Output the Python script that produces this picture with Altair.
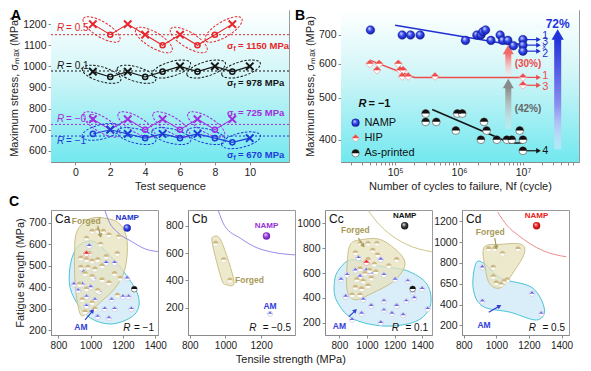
import math
import altair as alt
import pandas as pd

# ---------------- layout ----------------
WA, WB, H1 = 238, 238, 152
WC, H2 = 107, 125

# ---------------- Panel A data ----------------
A_names = ["0.5", "0.1", "-0.5", "-1"]
A_colors = ["#e8262a", "#151515", "#a12ee0", "#1f3bd8"]

a05_seq = [1, 2, 3, 4, 5, 6, 7, 8, 9]
a05_val = [1200, 1150, 1200, 1150, 1100, 1150, 1100, 1150, 1200]
a05_mk = ["x", "o", "x", "x", "o", "x", "o", "o", "x"]
a05_pairs = [(1, 2), (4, 5), (6, 7), (8, 9)]

a01_seq = [1, 2, 3, 4, 5, 6, 7, 8, 9, 10]
a01_val = [975, 950, 975, 950, 975, 1000, 975, 1000, 975, 1000]
a01_mk = ["x", "o", "x", "o", "o", "x", "o", "x", "o", "x"]
a01_pairs = [(1, 2), (3, 4), (5, 6), (7, 8), (9, 10)]

am05_seq = [1, 2, 3, 4, 5, 6, 7, 8, 9]
am05_val = [750, 700, 750, 700, 750, 700, 750, 700, 750]
am05_mk = ["x", "x", "x", "o", "x", "o", "x", "o", "x"]
am05_pairs = [(1, 2), (3, 4), (5, 6), (7, 8)]

am1_seq = [1, 2, 3, 4, 5, 6, 7, 8, 9, 10]
am1_val = [680, 700, 680, 660, 680, 660, 680, 660, 640, 660]
am1_mk = ["o", "x", "x", "o", "x", "o", "x", "o", "o", "x"]
am1_pairs = [(1, 2), (3, 4), (5, 6), (7, 8), (9, 10)]

A_sigma = [1150, 978, 725, 670]
A_sigma_txt = ["= 1150 MPa", "= 978 MPa", "= 725 MPa", "= 670 MPa"]
A_sigma_y = [1096, 921, 778, 578]
A_sigma_x = [8.7, 8.7, 8.7, 8.7]
A_R_txt = ["= 0.5", "= 0.1", "= −0.5", "= −1"]
A_R_y = [1180, 1002, 750, 646]
A_R_x = [-1.05, -1.05, -1.05, -1.05]

# ---------------- Panel B data ----------------
B_namp_N = [4.1e4, 1.29e5, 1.74e5, 2.46e5, 1.26e6, 1.9e6, 2.2e6, 2.35e6, 2.6e6, 3.16e6,
            4.4e6, 4.8e6, 5.8e6, 7.1e6, 1e7, 1e7, 1e7]
B_namp_S = [719, 700, 700, 700, 680, 700, 700, 712, 719, 680, 700, 680, 680, 661, 683, 663, 642]
B_hip_N = [4.0e4, 5.2e4, 5.6e4, 1.12e5, 1.19e5, 1.33e5, 1.29e5, 1.6e5, 4.2e5, 1e7, 1e7]
B_hip_S = [600, 580, 600, 600, 580, 580, 561, 561, 561, 558, 535]
B_asp_N = [3.0e5, 3.0e5, 4.4e5, 8.9e5, 9.4e5, 1.12e6, 2.2e6, 2.46e6, 2.7e6, 3.9e6, 5.6e6,
           6.7e6, 8.9e6, 1e7, 1e7]
B_asp_S = [460, 440, 440, 420, 460, 460, 400, 440, 420, 400, 400, 400, 420, 400, 377]

B_series = ["NAMP", "HIP", "As-printed"]
B_colors = ["#1f2fd0", "#ee4b4b", "#151515"]
B_fit_namp_N = [1e5, 5.6e6, 1e7]
B_fit_namp_S = [737, 667, 667]
B_fit_hip_N = [4e4, 2e5, 1e7]
B_fit_hip_S = [612, 558, 558]
B_fit_asp_N = [3.8e5, 6.3e6, 1e7]
B_fit_asp_S = [470, 393, 393]

B_run_series = ["NAMP", "NAMP", "NAMP", "HIP", "HIP", "As-printed"]
B_run_S = [683, 663, 642, 558, 535, 377]
B_run_from = 1e7
B_run_to = 1.75e7
B_lab_series = ["NAMP", "NAMP", "NAMP", "NAMP", "HIP", "HIP", "As-printed"]
B_lab_txt = ["1", "3", "x", "2", "1", "3", "4"]
B_lab_S = [696, 673, 655, 634, 562, 531, 377]
B_lab_size = [10.5, 10.5, 8, 10.5, 11, 11, 11]
B_lab_N = 2.0e7

B_big_N = [5.9e6, 5.9e6, 3.5e7]
B_big_lo = [563, 424, 380]
B_big_hi = [632, 528, 685]
B_big_head = [648, 540, 702]

B_leg_txt = ["NAMP", "HIP", "As-printed"]
B_leg_S = [438, 403, 372]
B_leg_sym_N = 2.4e4
B_leg_txt_N = 3.3e4
B_Rlab = (2.66e4, 484)
B_pct_txt = ["(30%)", "(42%)", "72%"]
B_pct_N = [1.2e7, 1.2e7, 3.5e7]
B_pct_S = [600, 472, 742]

# ---------------- Panel C data ----------------
Ca_forged_x = [1009, 1043, 1078, 1113, 1174, 974, 1061, 991, 939, 974, 1009, 1043, 1096, 1165, 939, 983,
               1026, 1070, 965, 1009, 1070, 1148, 1183, 930, 974, 1043, 1165, 948, 1009, 965, 1026, 1113]
Ca_forged_y = [660, 664, 660, 643, 635, 628, 600, 556, 535, 528, 521, 528, 542, 556, 492, 492,
               484, 499, 463, 449, 434, 463, 441, 413, 391, 384, 362, 341, 327, 284, 298, 420]
Ca_am_x = [991, 957, 1017, 1096, 1148, 1226, 896, 948, 922, 974, 1026, 1052, 1130, 1200, 1235, 1252,
           1148, 1087, 1043, 1113, 974, 1000]
Ca_am_y = [592, 470, 441, 513, 513, 441, 413, 413, 384, 355, 341, 377, 341, 355, 355, 298,
           298, 298, 262, 255, 312, 400]
Ca_fo_x = [915, 990, 1090, 1180, 1226, 1212, 1150, 1060, 980, 935, 905, 900]
Ca_fo_y = [660, 718, 722, 695, 614, 484, 395, 330, 280, 275, 400, 560]
Ca_ao_x = [922, 1009, 1096, 1217, 1296, 1275, 1148, 1026, 939, 872, 876]
Ca_ao_y = [590, 615, 566, 460, 355, 275, 230, 245, 300, 398, 513]
Ca_cv_x = [1087, 1113, 1165, 1252, 1339, 1420]
Ca_cv_y = [760, 707, 657, 614, 578, 566]

Cb_forged_x = [945, 990, 1025]
Cb_forged_y = [670, 550, 400]
Cb_am_x = [1250]
Cb_am_y = [155]
Cb_fo_x = [933, 977, 1048, 1003, 977, 927]
Cb_fo_y = [720, 686, 392, 369, 414, 664]
Cb_cv_x = [959, 995, 1083, 1172, 1260, 1400]
Cb_cv_y = [914, 800, 709, 641, 607, 586]

Cc_forged_x = [950, 1008, 1072, 916, 1042, 1077, 1008, 1054, 950, 985, 1019, 1065, 927, 973, 1031, 916,
               961, 1008, 892, 950, 1215, 1158]
Cc_forged_y = [837, 837, 837, 762, 782, 744, 707, 670, 633, 596, 621, 608, 547, 534, 559, 484,
               473, 497, 423, 423, 707, 658]
Cc_am_x = [812, 857, 916, 950, 996, 1031, 939, 1100, 1123, 1204, 1296, 1331, 1343, 1285, 1400, 1440,
           846, 973, 1031, 1123, 1215, 961, 1123, 1262, 892, 1100, 1181]
Cc_am_y = [547, 584, 621, 571, 621, 596, 720, 707, 584, 547, 534, 447, 398, 373, 473, 311,
           410, 386, 336, 373, 336, 274, 299, 262, 224, 200, 274]
Cc_fo_x = [881, 961, 1100, 1238, 1273, 1193, 1031, 916, 857, 857]
Cc_fo_y = [831, 868, 868, 757, 658, 534, 435, 386, 460, 683]
Cc_ao_x = [800, 892, 1077, 1285, 1435, 1458, 1354, 1123, 892, 777, 765]
Cc_ao_y = [633, 707, 658, 621, 510, 336, 212, 175, 237, 386, 534]
Cc_cv_x = [1008, 1077, 1146, 1285, 1470]
Cc_cv_y = [1104, 1004, 930, 831, 770]

Cd_forged_x = [953, 990, 1038, 1133, 981, 981, 1000, 1029, 1048, 1067]
Cd_forged_y = [933, 933, 889, 933, 756, 667, 607, 593, 622, 637]
Cd_am_x = [914, 914, 1219, 1276]
Cd_am_y = [756, 430, 504, 311]
Cd_fo_x = [924, 1029, 1152, 1171, 1105, 1029, 962, 933]
Cd_fo_y = [948, 978, 978, 889, 711, 563, 593, 740]
Cd_ao_x = [876, 933, 1029, 1219, 1295, 1247, 1086, 914, 857]
Cd_ao_y = [800, 785, 652, 563, 356, 252, 326, 385, 563]
Cd_cv_x = [1008, 1067, 1134, 1286, 1430]
Cd_cv_y = [1287, 1156, 1065, 917, 858]

# ---------------- styles ----------------
ELLIPSE = ("M-1,0 C-1,-0.199 -0.552,-0.36 0,-0.36 C0.552,-0.36 1,-0.199 1,0 "
           "C1,0.199 0.552,0.36 0,0.36 C-0.552,0.36 -1,0.199 -1,0 Z")
XPATH = "M-1,-1 L1,1 M-1,1 L1,-1"
TOP_HALF = "M-1,0 C-1,-0.55 -0.55,-1 0,-1 C0.55,-1 1,-0.55 1,0 Z"
TOP_TRI = "M-1,0 L0,-1 L1,0 Z"
TOP_DOME = "M-1,0 Q-0.45,-0.35 0,-1 Q0.45,-0.35 1,0 Z"


def lgrad(stops):
    return alt.LinearGradient(gradient="linear",
                              stops=[alt.GradientStop(offset=o, color=c) for o, c in stops],
                              x1=0, x2=0, y1=0, y2=1)


def sphere(light, mid, dark):
    return alt.RadialGradient(gradient="radial",
                              stops=[alt.GradientStop(offset=0, color=light),
                                     alt.GradientStop(offset=0.45, color=mid),
                                     alt.GradientStop(offset=1, color=dark)],
                              x1=0.35, y1=0.3, r1=0, x2=0.5, y2=0.5, r2=0.6)


BG = lgrad([(0, "#ffffff"), (0.4, "#d4f6f8"), (1, "#72e8ef")])
one = pd.DataFrame({"k": [0]})

# ================= Panel A =================
sA_x = alt.Scale(domain=[-1.4, 12.25], nice=False, zero=False)
sA_y = alt.Scale(domain=[547, 1267], nice=False, zero=False)
axA_x = alt.Axis(values=[0, 2, 4, 6, 8, 10], labelFlush=False, title="Test sequence")
axA_y = alt.Axis(values=[600, 700, 800, 900, 1000, 1100, 1200], format="d", title="Maximum stress, σₘₐₓ (MPa)")


def XA():
    return alt.X("x:Q", scale=sA_x, axis=axA_x)


def YA():
    return alt.Y("y:Q", scale=sA_y, axis=axA_y)


colA = alt.Color("series:N", scale=alt.Scale(domain=A_names, range=A_colors), legend=None)
pxx = WA / (12.25 + 1.4)
pxy = H1 / (1267 - 547)
rows, ell = [], []
for nm, seq, val, mk, pairs in [("0.5", a05_seq, a05_val, a05_mk, a05_pairs),
                                ("0.1", a01_seq, a01_val, a01_mk, a01_pairs),
                                ("-0.5", am05_seq, am05_val, am05_mk, am05_pairs),
                                ("-1", am1_seq, am1_val, am1_mk, am1_pairs)]:
    for s, v, m in zip(seq, val, mk):
        rows.append({"series": nm, "x": s, "y": v, "m": m})
    for a, b in pairs:
        va, vb = val[seq.index(a)], val[seq.index(b)]
        dx, dy = (b - a) * pxx, (va - vb) * pxy
        ell.append({"series": nm, "x": (a + b) / 2, "y": (va + vb) / 2,
                    "ang": math.degrees(math.atan2(dy, dx)) % 360,
                    "sz": (math.hypot(dx, dy) + 22) ** 2})
dfA = pd.DataFrame(rows)
dfE = pd.DataFrame(ell)
dfRef = pd.DataFrame({"series": A_names, "y": A_sigma})
dfSig = pd.DataFrame({"series": A_names, "x": A_sigma_x, "y": A_sigma_y, "t": A_sigma_txt})
dfR = pd.DataFrame({"series": A_names, "x": A_R_x, "y": A_R_y, "t": A_R_txt})

a_layers = [
    alt.Chart(one).mark_rect(fill=BG).encode(x=alt.value(0), x2=alt.value(WA), y=alt.value(0), y2=alt.value(H1)),
    alt.Chart(dfRef).mark_rule(strokeDash=[2, 2], strokeWidth=1).encode(y=YA(), color=colA),
    alt.Chart(dfA).mark_line(strokeWidth=1.1).encode(x=XA(), y=YA(), color=colA),
    alt.Chart(dfE).mark_point(shape=ELLIPSE, filled=False, strokeDash=[2.5, 1.5], strokeWidth=1, opacity=1)
    .encode(x=XA(), y=YA(), color=colA, angle=alt.Angle("ang:Q", scale=None), size=alt.Size("sz:Q", scale=None)),
    alt.Chart(dfA).transform_filter("datum.m == 'x'")
    .mark_point(shape=XPATH, filled=False, strokeWidth=2, size=55, opacity=1)
    .encode(x=XA(), y=YA(), color=colA),
    alt.Chart(dfA).transform_filter("datum.m == 'o'")
    .mark_point(shape="circle", filled=False, strokeWidth=1.5, size=26, opacity=1)
    .encode(x=XA(), y=YA(), color=colA),
    alt.Chart(dfR).mark_text(text="R", align="left", baseline="middle", fontSize=10, fontStyle="italic")
    .encode(x=XA(), y=YA(), color=colA),
    alt.Chart(dfR).mark_text(align="left", baseline="middle", fontSize=10, dx=9)
    .encode(x=XA(), y=YA(), color=colA, text="t:N"),
    alt.Chart(dfSig).mark_text(text="σ", align="left", baseline="middle", fontSize=9.5, fontWeight="bold")
    .encode(x=XA(), y=YA(), color=colA),
    alt.Chart(dfSig).mark_text(text="f", align="left", baseline="middle", fontSize=6.5, fontWeight="bold", dx=6.5, dy=3)
    .encode(x=XA(), y=YA(), color=colA),
    alt.Chart(dfSig).mark_text(align="left", baseline="middle", fontSize=9.5, fontWeight="bold", dx=11)
    .encode(x=XA(), y=YA(), color=colA, text="t:N"),
    alt.Chart(one).mark_text(text="A", align="left", baseline="top", fontSize=14, fontWeight="bold")
    .encode(x=alt.value(-40), y=alt.value(-1)),
]
panelA = alt.layer(*a_layers).properties(width=WA, height=H1)

# ================= Panel B =================
sB_x = alt.Scale(type="log", domain=[1.7e4, 6.3e7], nice=False)
sB_y = alt.Scale(type="log", domain=[355, 800], nice=False)
B_ticks = [m * 10 ** e for e in range(4, 8) for m in range(1, 10) if 1.7e4 <= m * 10 ** e <= 6.3e7]
axB_x = alt.Axis(values=B_ticks, labelOverlap=False, labelFlush=False,
                 labelExpr="datum.value == 100000 ? '10⁵' : datum.value == 1000000 ? '10⁶' : datum.value == 10000000 ? '10⁷' : ''",
                 title="Number of cycles to failure, Nf (cycle)")
axB_y = alt.Axis(values=[400, 500, 600, 700], format="d", title="Maximum stress, σₘₐₓ (MPa)")


def XB(f="x"):
    return alt.X(f + ":Q", scale=sB_x, axis=axB_x)


def YB(f="y"):
    return alt.Y(f + ":Q", scale=sB_y, axis=axB_y)


colB = alt.Color("series:N", scale=alt.Scale(domain=B_series, range=B_colors), legend=None)

fit_rows = []
for nm, ns, ss in [("NAMP", B_fit_namp_N, B_fit_namp_S), ("HIP", B_fit_hip_N, B_fit_hip_S),
                   ("As-printed", B_fit_asp_N, B_fit_asp_S)]:
    for i, (n, s) in enumerate(zip(ns, ss)):
        fit_rows.append({"series": nm, "x": n, "y": s, "i": i})
dfFit = pd.DataFrame(fit_rows)
dfRun = pd.DataFrame({"series": B_run_series, "x": [B_run_from] * len(B_run_S),
                      "x2": [B_run_to] * len(B_run_S), "y": B_run_S})
dfRunLab = pd.DataFrame({"series": B_lab_series, "x": [B_lab_N] * len(B_lab_S), "y": B_lab_S,
                         "t": B_lab_txt, "fs": B_lab_size})
dfNamp = pd.DataFrame({"x": B_namp_N, "y": B_namp_S})
dfHip = pd.DataFrame({"x": B_hip_N, "y": B_hip_S})
dfAsp = pd.DataFrame({"x": B_asp_N, "y": B_asp_S})
dfLegSym = pd.DataFrame({"x": [B_leg_sym_N] * 3, "y": B_leg_S, "t": B_leg_txt})
dfLegTxt = pd.DataFrame({"x": [B_leg_txt_N] * 3, "y": B_leg_S, "t": B_leg_txt})
dfRl = pd.DataFrame({"x": [B_Rlab[0]], "y": [B_Rlab[1]]})

NAMP_BLUE = sphere("#e8ecff", "#3346ee", "#0a148a")


def halfsym(df, X, Y, top_shape, top_color, base_shape="circle", size=70, stroke="#8a8a8a", sw=0.6):
    base = alt.Chart(df).mark_point(shape=base_shape, filled=True, fill="white", stroke=stroke,
                                    strokeWidth=sw, size=size, opacity=1).encode(x=X, y=Y)
    top = alt.Chart(df).mark_point(shape=top_shape, filled=True, fill=top_color, strokeWidth=0,
                                   size=size, opacity=1).encode(x=X, y=Y)
    return [base, top]


big_specs = [
    ([(0, "#f36a6a"), (1, "rgba(255,230,230,0.35)")], "#f36a6a", 120),
    ([(0, "#8a8a8a"), (1, "rgba(235,235,235,0.35)")], "#8a8a8a", 120),
    ([(0, "#2233dd"), (0.6, "#8b8ff0"), (1, "rgba(240,235,255,0.4)")], "#2233dd", 150),
]
big_layers = []
for i, (stops, hc, hs) in enumerate(big_specs):
    dfb = pd.DataFrame({"x": [B_big_N[i]], "y": [B_big_lo[i]], "y2": [B_big_hi[i]]})
    dfh = pd.DataFrame({"x": [B_big_N[i]], "y": [B_big_head[i]]})
    big_layers.append(alt.Chart(dfb).mark_bar(fill=lgrad(stops), size=6 if i < 2 else 7)
                      .encode(x=XB(), y=YB(), y2="y2:Q"))
    big_layers.append(alt.Chart(dfh).mark_point(shape="triangle-up", filled=True, fill=hc, strokeWidth=0,
                                                size=hs, opacity=1).encode(x=XB(), y=YB()))

dfPct = pd.DataFrame({"x": B_pct_N, "y": B_pct_S, "t": B_pct_txt})
b_layers = [
    alt.Chart(one).mark_rect(fill=BG).encode(x=alt.value(0), x2=alt.value(WB), y=alt.value(0), y2=alt.value(H1)),
    alt.Chart(dfFit).mark_line(strokeWidth=1.5).encode(x=XB(), y=YB(), color=colB, order="i:Q"),
    alt.Chart(dfRun).mark_rule(strokeWidth=1.2).encode(x=XB(), x2="x2:Q", y=YB(), color=colB),
    alt.Chart(dfRun).mark_point(shape="triangle-right", filled=True, size=28, opacity=1)
    .encode(x=XB("x2"), y=YB(), color=colB),
] + big_layers
b_layers += halfsym(dfAsp, XB(), YB(), TOP_HALF, "#111111", stroke="#444", size=62)
b_layers += halfsym(dfHip, XB(), YB(), TOP_TRI, "#ee4b4b", base_shape="diamond", stroke="#e88", size=62)
b_layers += [
    alt.Chart(dfNamp).mark_point(shape="circle", filled=True, fill=NAMP_BLUE, stroke="#0a148a",
                                 strokeWidth=0.4, size=75, opacity=1).encode(x=XB(), y=YB()),
    alt.Chart(dfRunLab).mark_text(align="left", baseline="middle")
    .encode(x=XB(), y=YB(), color=colB, text="t:N", size=alt.Size("fs:Q", scale=None)),
]
b_layers += [
    alt.Chart(dfLegSym.iloc[[0]]).mark_point(shape="circle", filled=True, fill=NAMP_BLUE, stroke="#0a148a",
                                              strokeWidth=0.4, size=60, opacity=1).encode(x=XB(), y=YB()),
]
b_layers += halfsym(dfLegSym.iloc[[1]], XB(), YB(), TOP_TRI, "#ee4b4b", base_shape="diamond", stroke="#e88", size=55)
b_layers += halfsym(dfLegSym.iloc[[2]], XB(), YB(), TOP_HALF, "#111111", stroke="#444", size=55)
b_layers += [
    alt.Chart(dfLegTxt).mark_text(align="left", baseline="middle", fontSize=11, color="#111")
    .encode(x=XB(), y=YB(), text="t:N"),
    alt.Chart(dfRl).mark_text(text="R", align="left", baseline="middle", fontSize=11, fontWeight="bold",
                              fontStyle="italic", color="#111").encode(x=XB(), y=YB()),
    alt.Chart(dfRl).mark_text(text="= −1", align="left", baseline="middle", fontSize=11, fontWeight="bold",
                              dx=10, color="#111").encode(x=XB(), y=YB()),
    alt.Chart(dfPct.iloc[[0]]).mark_text(align="center", baseline="middle", fontSize=10, fontWeight="bold",
                                         color="#ee4b4b").encode(x=XB(), y=YB(), text="t:N"),
    alt.Chart(dfPct.iloc[[1]]).mark_text(align="center", baseline="middle", fontSize=10, fontWeight="bold",
                                         color="#666666").encode(x=XB(), y=YB(), text="t:N"),
    alt.Chart(dfPct.iloc[[2]]).mark_text(align="center", baseline="middle", fontSize=12, fontWeight="bold",
                                         color="#2233dd").encode(x=XB(), y=YB(), text="t:N"),
    alt.Chart(one).mark_text(text="B", align="left", baseline="top", fontSize=14, fontWeight="bold")
    .encode(x=alt.value(-46), y=alt.value(-1)),
]
panelB = alt.layer(*b_layers).properties(width=WB, height=H1)

# ================= Panel C =================
FORGED_TXT = "#a89a58"
AM_TXT = "#3340d8"


def c_panel(letter, xdom, ydom, yticks, ytitle, forged, am, fo, ao, curve, curve_color, namp, namp_fill,
            namp_col, hip, asp, forged_lab, am_lab, forged_arr, am_arr, r_txt, ylexpr=None, big_letter=False):
    sx = alt.Scale(domain=xdom, nice=False, zero=False)
    sy = alt.Scale(domain=ydom, nice=False, zero=False)
    axx = alt.Axis(values=[800, 1000, 1200, 1400], format="d", title=None, labelFlush=False,
                   labelOverlap=False, labelFontSize=10)
    ykw = dict(values=yticks, title=ytitle, format="d")
    if ylexpr:
        ykw["labelExpr"] = ylexpr
    axy = alt.Axis(**ykw)

    def X(f="x"):
        return alt.X(f + ":Q", scale=sx, axis=axx)

    def Y(f="y"):
        return alt.Y(f + ":Q", scale=sy, axis=axy)

    def D(xs, ys):
        return pd.DataFrame({"x": list(xs), "y": list(ys), "i": list(range(len(xs)))})

    L = []
    if ao:
        L.append(alt.Chart(D(*ao)).mark_line(interpolate="cardinal-closed", fill="#d6ecf8", fillOpacity=0.9,
                                              stroke="#48c4d4", strokeWidth=1)
                 .encode(x=X(), y=Y(), order="i:Q"))
    if fo:
        L.append(alt.Chart(D(*fo)).mark_line(interpolate="cardinal-closed", fill="#e6e2bc", fillOpacity=0.75,
                                              stroke="#cbc088", strokeWidth=1)
                 .encode(x=X(), y=Y(), order="i:Q"))
    L.append(alt.Chart(D(*curve)).mark_line(interpolate="monotone", clip=True, strokeWidth=0.9, color=curve_color)
             .encode(x=X(), y=Y(), order="i:Q"))
    L += halfsym(D(*am), X(), Y(), TOP_DOME, "#6a6ae6", stroke="#b8b8d8", size=28, sw=0.5)
    L += halfsym(D(*forged), X(), Y(), TOP_HALF, "#cdb882", stroke="#d8d0b0", size=28, sw=0.5)
    if hip:
        L += halfsym(D([hip[0]], [hip[1]]), X(), Y(), TOP_TRI, "#e82b2b", stroke="#e88", size=34)
    if asp:
        L += halfsym(D([asp[0]], [asp[1]]), X(), Y(), TOP_HALF, "#111111", stroke="#444", size=34)
    dn = D([namp[0]], [namp[1]])
    L.append(alt.Chart(dn).mark_point(shape="circle", filled=True, fill=namp_fill, strokeWidth=0,
                                      size=55, opacity=1).encode(x=X(), y=Y()))
    L.append(alt.Chart(dn).mark_text(text="NAMP", fontSize=8, fontWeight="bold", color=namp_col, dy=-10)
             .encode(x=X(), y=Y()))
    L.append(alt.Chart(D([forged_lab[0]], [forged_lab[1]])).mark_text(text="Forged", fontSize=8.5, fontWeight="bold",
                                                                      color=FORGED_TXT).encode(x=X(), y=Y()))
    L.append(alt.Chart(D([am_lab[0]], [am_lab[1]])).mark_text(text="AM", fontSize=8.5, fontWeight="bold",
                                                              color=AM_TXT).encode(x=X(), y=Y()))
    for arr, col in [(forged_arr, "#a89a58"), (am_arr, "#3340d8")]:
        if not arr:
            continue
        x1, y1, x2, y2 = arr
        dxp = (x2 - x1) * WC / (xdom[1] - xdom[0])
        dyp = (y2 - y1) * H2 / (ydom[1] - ydom[0])
        ang = math.degrees(math.atan2(dxp, dyp)) % 360
        da = pd.DataFrame({"x": [x1], "y": [y1], "x2": [x2], "y2": [y2], "ang": [ang]})
        L.append(alt.Chart(da).mark_rule(strokeWidth=1.2, color=col).encode(x=X(), y=Y(), x2="x2:Q", y2="y2:Q"))
        L.append(alt.Chart(da).mark_point(shape="triangle-up", filled=True, fill=col, strokeWidth=0, size=24,
                                          opacity=1).encode(x=X("x2"), y=Y("y2"),
                                                            angle=alt.Angle("ang:Q", scale=None)))
    L.append(alt.Chart(one).mark_text(text=letter, align="left", baseline="top", fontSize=12, color="#111")
             .encode(x=alt.value(4), y=alt.value(4)))
    rw = 5.4 * len(r_txt)
    L.append(alt.Chart(one).mark_text(text=r_txt, align="right", baseline="alphabetic", fontSize=10, color="#111")
             .encode(x=alt.value(WC - 4), y=alt.value(H2 - 4)))
    L.append(alt.Chart(one).mark_text(text="R", align="right", baseline="alphabetic", fontSize=10,
                                      fontStyle="italic", color="#111")
             .encode(x=alt.value(WC - 6 - rw), y=alt.value(H2 - 4)))
    if big_letter:
        L.append(alt.Chart(one).mark_text(text="C", align="left", baseline="top", fontSize=14, fontWeight="bold")
                 .encode(x=alt.value(-42), y=alt.value(-15)))
    return alt.layer(*L).properties(width=WC, height=H2)


Ca = c_panel("Ca", [754, 1417], [177, 760], [200, 300, 400, 500, 600, 700], "Fatigue srength (MPa)",
             (Ca_forged_x, Ca_forged_y), (Ca_am_x, Ca_am_y), (Ca_fo_x, Ca_fo_y), (Ca_ao_x, Ca_ao_y),
             (Ca_cv_x, Ca_cv_y), "#8a7ee6", (1226, 676), sphere("#e8ecff", "#3346ee", "#0a148a"), "#2233cc",
             (974, 556), (1270, 391), (972, 711), (939, 215), (1043, 686, 1061, 640), (965, 247, 1012, 290),
             "= −1", big_letter=True)
Cb = c_panel("Cb", [790, 1390], [0, 915], [200, 400, 600, 800], None,
             (Cb_forged_x, Cb_forged_y), (Cb_am_x, Cb_am_y), (Cb_fo_x, Cb_fo_y), None,
             (Cb_cv_x, Cb_cv_y), "#8a7ee6", (1230, 725), sphere("#f4e8ff", "#a040e8", "#5a1090"), "#9a30d8",
             None, None, (1135, 405), (1250, 215), None, None, "= −0.5")
Cc = c_panel("Cc", [696, 1471], [103, 1106], [200, 400, 600, 800, 1000], None,
             (Cc_forged_x, Cc_forged_y), (Cc_am_x, Cc_am_y), (Cc_fo_x, Cc_fo_y), (Cc_ao_x, Cc_ao_y),
             (Cc_cv_x, Cc_cv_y), "#cbbd7e", (1273, 980), sphere("#ffffff", "#444444", "#000000"), "#111111",
             (996, 683), (1331, 473), (916, 943), (800, 175), (938, 881, 973, 819), (869, 250, 916, 299),
             "= 0.1")
Cd = c_panel("Cd", [789, 1446], [108, 1307], [200, 400, 600, 800, 1000, 1200], None,
             (Cd_forged_x, Cd_forged_y), (Cd_am_x, Cd_am_y), (Cd_fo_x, Cd_fo_y), (Cd_ao_x, Cd_ao_y),
             (Cd_cv_x, Cd_cv_y), "#e88080", (1247, 1156), sphere("#ffe8e8", "#f02020", "#901010"), "#e82020",
             None, None, (962, 1096), (924, 207), (990, 1037, 1000, 948), (953, 326, 1019, 385),
             "= 0.5", ylexpr="datum.value == 600 ? '650' : datum.label")

top = alt.hconcat(panelA, panelB, spacing=52, bounds="flush").resolve_scale(color="independent", size="independent")
bottom = alt.hconcat(Ca, Cb, Cc, Cd, spacing=30, bounds="flush",
                     title=alt.TitleParams("Tensile strength (MPa)", orient="bottom", anchor="middle",
                                           fontSize=11, fontWeight="normal", offset=3))
chart = alt.vconcat(top, bottom, spacing=2, padding=0).resolve_scale(color="independent", size="independent")
chart = (chart.configure(font="Arial")
         .configure_axis(labelFontSize=10.5, titleFontSize=11, titleFontWeight="normal", tickSize=3,
                         labelPadding=2, titlePadding=3, domainColor="#8a8a8a", tickColor="#8a8a8a",
                         labelColor="#222", titleColor="#222", grid=False)
         .configure_view(stroke="#9a9a9a", strokeWidth=1)
         .configure_title(font="Arial", color="#222"))
chart.save("out.html", embed_options={"renderer": "svg", "actions": False})
